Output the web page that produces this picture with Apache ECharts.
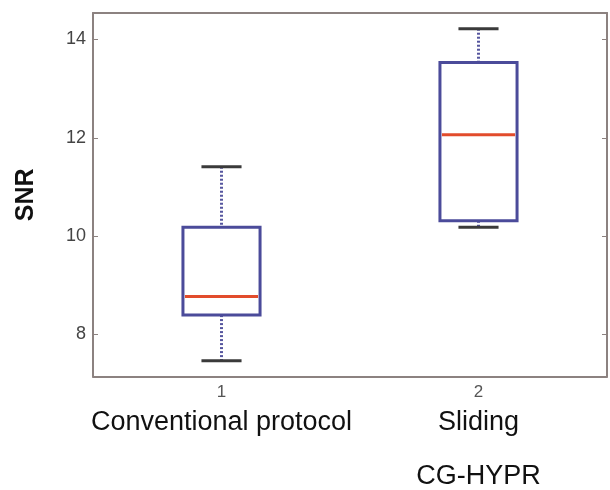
<!DOCTYPE html>
<html lang="en" style="height: 100%">

<head>
  <meta charset="utf-8" />
</head>

<body style="height: 100%; margin: 0; background: #fff">
  <div id="container" style="width: 610px; height: 490px"></div>

  <script type="text/javascript" src="https://fastly.jsdelivr.net/npm/echarts@6.0.0/dist/echarts.min.js"></script>

  <script type="text/javascript">
    // box plot values
    var tickNames = ["1", "2"];
    var groupNames = [["Conventional protocol"], ["Sliding", "CG-HYPR"]];
    var lowWhisker = [7.46, 10.18];
    var q1 = [8.39, 10.31];
    var median = [8.77, 12.06];
    var q3 = [10.18, 13.53];
    var highWhisker = [11.41, 14.22];

    var yMin = 7.14;
    var yMax = 14.54;

    var axisColor = "#8c8280";

    var boxData = tickNames.map(function (t, i) {
      return [i, lowWhisker[i], q1[i], median[i], q3[i], highWhisker[i]];
    });

    var dom = document.getElementById("container");
    var myChart = echarts.init(dom, null, { renderer: "canvas" });

    function renderBox(params, api) {
      var i = api.value(0);
      var band = api.size([1, 0])[0];
      var boxW = band * 0.3;
      var capW = band * 0.156;
      var pLow = api.coord([i, api.value(1)]);
      var pQ1 = api.coord([i, api.value(2)]);
      var pMed = api.coord([i, api.value(3)]);
      var pQ3 = api.coord([i, api.value(4)]);
      var pHigh = api.coord([i, api.value(5)]);
      var x = pLow[0];
      var whisker = { stroke: "#55559e", lineWidth: 3, lineDash: [2, 2] };
      var cap = { stroke: "#3a3a3a", lineWidth: 3 };
      return {
        type: "group",
        children: [
          { type: "line", shape: { x1: x, y1: pHigh[1], x2: x, y2: pQ3[1] }, style: whisker },
          { type: "line", shape: { x1: x, y1: pQ1[1], x2: x, y2: pLow[1] }, style: whisker },
          {
            type: "rect",
            shape: { x: x - boxW / 2, y: pQ3[1], width: boxW, height: pQ1[1] - pQ3[1] },
            style: { fill: null, stroke: "#4b4b9a", lineWidth: 3 }
          },
          {
            type: "line",
            shape: { x1: x - boxW / 2 + 2, y1: pMed[1], x2: x + boxW / 2 - 2, y2: pMed[1] },
            style: { stroke: "#e24c2c", lineWidth: 3 }
          },
          { type: "line", shape: { x1: x - capW / 2, y1: pHigh[1], x2: x + capW / 2, y2: pHigh[1] }, style: cap },
          { type: "line", shape: { x1: x - capW / 2, y1: pLow[1], x2: x + capW / 2, y2: pLow[1] }, style: cap }
        ]
      };
    }

    var option = {
      animation: false,
      grid: { left: 93, right: 3, top: 13, bottom: 112 },
      xAxis: [
        {
          type: "category",
          data: tickNames,
          axisLine: { lineStyle: { color: axisColor, width: 2 } },
          axisTick: { inside: true, alignWithLabel: true, length: 5, lineStyle: { color: axisColor } },
          axisLabel: {
            interval: 0,
            margin: 6,
            fontFamily: "Liberation Sans",
            formatter: function (value, idx) {
              var g = groupNames[idx];
              var s = "{n|" + value + "}\n{t|" + g[0] + "}";
              if (g[1]) s += "\n{u|" + g[1] + "}";
              return s;
            },
            rich: {
              n: { fontSize: 17, color: "#555", lineHeight: 20, fontFamily: "Liberation Sans" },
              t: { fontSize: 27, color: "#111", lineHeight: 40, fontFamily: "Liberation Sans" },
              u: { fontSize: 27, color: "#111", lineHeight: 68, fontFamily: "Liberation Sans" }
            }
          },
          splitLine: { show: false }
        },
        {
          type: "category",
          position: "top",
          data: tickNames,
          axisLine: { lineStyle: { color: axisColor, width: 2 } },
          axisTick: { inside: true, alignWithLabel: true, length: 5, lineStyle: { color: axisColor } },
          axisLabel: { show: false }
        }
      ],
      yAxis: [
        {
          type: "value",
          min: yMin,
          max: yMax,
          minInterval: 2,
          maxInterval: 2,
          name: "SNR",
          nameLocation: "middle",
          nameGap: 54,
          nameTextStyle: { fontSize: 25, fontWeight: "bold", color: "#111", fontFamily: "Liberation Sans" },
          axisLine: { show: true, lineStyle: { color: axisColor, width: 2 } },
          axisTick: { show: true, inside: true, length: 5, lineStyle: { color: axisColor } },
          axisLabel: {
            showMinLabel: false,
            showMaxLabel: false,
            margin: 7,
            fontSize: 18,
            color: "#444",
            fontFamily: "Liberation Sans"
          },
          splitLine: { show: false }
        },
        {
          type: "value",
          position: "right",
          min: yMin,
          max: yMax,
          minInterval: 2,
          maxInterval: 2,
          axisLine: { show: true, lineStyle: { color: axisColor, width: 2 } },
          axisTick: { show: true, inside: true, length: 5, lineStyle: { color: axisColor } },
          axisLabel: { show: false },
          splitLine: { show: false }
        }
      ],
      series: [
        {
          type: "custom",
          renderItem: renderBox,
          encode: { x: 0, y: [1, 2, 3, 4, 5] },
          data: boxData
        }
      ]
    };

    myChart.setOption(option);
    window.addEventListener("resize", myChart.resize);
  </script>
</body>

</html>
